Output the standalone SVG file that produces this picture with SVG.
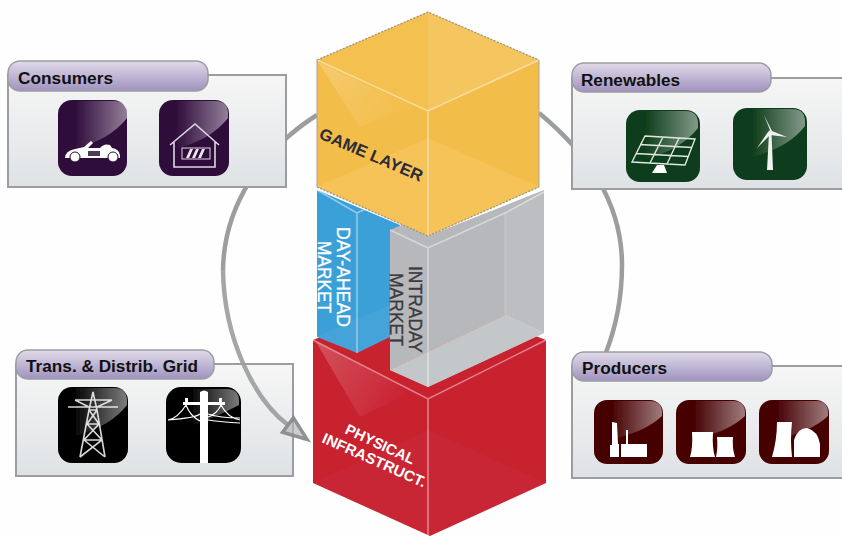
<svg xmlns="http://www.w3.org/2000/svg" width="842" height="536" viewBox="0 0 842 536">
<style>
text{font-family:"Liberation Sans",Arial,sans-serif}
.box{fill:url(#boxG);stroke:#9b9da0;stroke-width:2}
.tab{fill:url(#tabG);stroke:#9b9da0;stroke-width:1.5}
.lbl{font-size:17.4px;font-weight:700;fill:#111}
.ring{fill:none;stroke:#9c9d9f;stroke-width:4.5}
.soft{filter:url(#soft)}
.gloss{fill:url(#glossG)}
.w{fill:#fff}
.wl{fill:none;stroke:#fff}
.edge{fill:none;stroke-width:1.5;stroke-opacity:.45;stroke:#fff}
.out{fill:none;stroke:#85878a;stroke-width:1.3;stroke-dasharray:2 1.5;stroke-opacity:.8}
.cube{font-size:18px;stroke-width:.35}
</style>
<defs>
<filter id="soft" x="-5%" y="-5%" width="110%" height="110%"><feGaussianBlur stdDeviation="0.6"/></filter>
<linearGradient id="boxG" x1="0" y1="0" x2="0" y2="1"><stop offset="0" stop-color="#f6f6f6"/><stop offset="1" stop-color="#dfe2e5"/></linearGradient>
<linearGradient id="tabG" x1="0" y1="0" x2="0" y2="1"><stop offset="0" stop-color="#e0dbe9"/><stop offset="1" stop-color="#a092bf"/></linearGradient>
<linearGradient id="glossG" x1="0" y1="0" x2="1" y2="0"><stop offset="0" stop-color="#fff" stop-opacity="0"/><stop offset="1" stop-color="#fff" stop-opacity=".48"/></linearGradient>
<linearGradient id="shine" x1="0" y1="0" x2="1" y2="0.5"><stop offset="0" stop-color="#fff" stop-opacity=".22"/><stop offset="1" stop-color="#fff" stop-opacity=".02"/></linearGradient>
<marker id="arrow" markerUnits="userSpaceOnUse" markerWidth="34" markerHeight="30" refX="3" refY="15" orient="auto"><path d="M3 6 L27 15 L3 24 Z" fill="#b4b6b9" fill-opacity=".75" stroke="#85878a" stroke-width="3.500"/></marker>
<path id="g" d="M16 1 H56 Q69 1 69 14 V18 Q52 40 16 49 Z"/>
</defs>
<rect width="842" height="536" fill="#fefefe"/>

<g id="grid">
<rect class="box" x="16" y="364" width="277" height="112"/>
<rect class="tab" x="16" y="350" width="198" height="29" rx="12"/>
<text class="lbl" x="26" y="372" textLength="172" lengthAdjust="spacingAndGlyphs">Trans. &amp; Distrib. Grid</text>
<g class="soft">
<rect x="58" y="387" width="70" height="76" rx="14" fill="#030303"/>
<g fill="none" stroke="#d6d6d6" stroke-width="1.6"><path d="M80 457 L89 410 L93 392 L97 410 L105 457 M75 400 H112 M68 407 H118 M75 400 L89 407 M112 400 L97 407 M89 410 H97 M87 424 H99 M84 440 H102 M89 410 L99 424 L84 440 L105 457 M97 410 L87 424 L102 440 L80 457"/></g>
<use href="#g" class="gloss" transform="translate(58,387)"/>
<rect x="166" y="387" width="75" height="76" rx="15" fill="#000"/>
<path class="gloss" d="M190 389 H227 Q239 389 239 401 V405 Q215 418 190 426 Z"/>
<path class="w" d="M200 392 Q204 389 208 392 V463 H200 Z M183 402 H225 V405 H183 Z"/>
<rect class="w" x="185" y="398" width="3" height="7"/><rect class="w" x="219" y="398" width="3" height="7"/>
<path class="wl" stroke-width="1.2" d="M168 420 Q178 418 186 405 M168 420 Q195 418 200 414 M186 405 Q190 416 200 421 M240 420 Q228 418 221 405 M240 418 Q220 418 208 414 M240 423 Q222 422 208 420 M221 405 Q217 414 208 417"/>
</g>
</g>

<g id="connectors">
<path class="ring" d="M317 115 C262 150 224 205 223 270"/>
<path class="ring" opacity=".9" d="M223 270 C224 340 255 400 288 425" marker-end="url(#arrow)"/>
<path class="ring" d="M539 113 C590 155 622 205 622 265 C622 300 615 330 605 355"/>
</g>

<g id="consumers">
<rect class="box" x="8" y="75" width="278" height="112"/>
<rect class="tab" x="8" y="61" width="200" height="30" rx="12"/>
<text class="lbl" x="18" y="84" textLength="95" lengthAdjust="spacingAndGlyphs">Consumers</text>
<g class="soft">
<rect x="58" y="100" width="69" height="76" rx="14" fill="#2e0a3a"/>
<use href="#g" class="gloss" transform="translate(58,100)"/>
<path class="w" d="M65 158 Q65 151 75 149 L84 147 L91 141 L93 143 L88 148 L100 148 Q104 143 110 145 L112 148 Q119 149 120 155 L120 158 Z"/>
<circle cx="75" cy="157" r="5" class="w" stroke="#2e0a3a"/><circle cx="113" cy="157" r="5" class="w" stroke="#2e0a3a"/>
<rect x="88" y="151" width="12" height="5" fill="#4d3a58"/>
<rect x="159" y="100" width="70" height="76" rx="14" fill="#2e0a3a"/>
<use href="#g" class="gloss" transform="translate(159,100)"/>
<path fill="none" stroke="#ddd7e2" stroke-width="1.6" d="M170 145 L195 124 L219 145 M174 142 V167 H215 V142"/>
<rect x="182" y="148" width="28" height="11" fill="none" stroke="#ddd7e2" stroke-width="1"/>
<path fill="#e9e5ec" d="M186 158 L190 149 H193 L189 158 Z M192 158 L196 149 H199 L195 158 Z M198 158 L202 149 H205 L201 158 Z"/>
</g>
</g>

<g id="renewables">
<rect class="box" x="572" y="78" width="272" height="111"/>
<rect class="tab" x="572" y="63" width="199" height="29" rx="12"/>
<text class="lbl" x="581" y="86" textLength="99" lengthAdjust="spacingAndGlyphs">Renewables</text>
<g class="soft">
<rect x="626" y="110" width="74" height="72" rx="14" fill="#0f3d1b"/>
<use href="#g" class="gloss" transform="translate(629,110)"/>
<path fill="none" stroke="#dfe8e0" stroke-width="1.4" d="M645 136 L695 139 L685 165 L632 162 Z M640 144.500 L692 147.500 M636 153.500 L688 156.500 M663 137 L650 163 M679 138 L667 164"/>
<path class="w" d="M657 165 H664 L667 173 H652 Z"/>
<rect x="733" y="108" width="74" height="72" rx="14" fill="#0f3d1b"/>
<use href="#g" class="gloss" transform="translate(736,108)"/>
<path fill="#eef2ee" d="M769 133 H771.500 L773 170 H767 Z M770 130 L764 115 L772 131 L787 137 L770 135 L757 148 L768 132 Z"/>
</g>
</g>

<g id="producers">
<rect class="box" x="572" y="366" width="272" height="112"/>
<rect class="tab" x="572" y="352" width="200" height="29" rx="12"/>
<text class="lbl" x="582" y="374" textLength="85" lengthAdjust="spacingAndGlyphs">Producers</text>
<g class="soft">
<rect x="594" y="400" width="69" height="64" rx="13" fill="#470205"/>
<path class="gloss" d="M612 401 H650 Q662 401 662 413 V416 Q645 432 612 439 Z"/>
<path class="w" d="M612 422 L617 423 L618 444 H619 V457 H610 V445 H612 Z M621 457 V444 H626 V430 H628 V444 H647 V457 Z"/>
<rect x="676" y="400" width="70" height="64" rx="13" fill="#470205"/>
<path class="gloss" d="M694 401 H733 Q745 401 745 413 V416 Q728 432 694 439 Z"/>
<path class="w" d="M692 432 H713 Q712 448 715 457 H690 Q693 448 692 432 Z M717 437 H733 Q732 448 735 457 H716 Q718 448 717 437 Z"/>
<rect x="759" y="400" width="70" height="64" rx="13" fill="#470205"/>
<path class="gloss" d="M777 401 H816 Q828 401 828 413 V416 Q811 432 777 439 Z"/>
<path class="w" d="M777 422 H792 Q790 440 792 457 H772 Q777 440 777 422 Z M794 457 V440 Q798 428 807 428 Q818 431 820 444 V457 Z"/>
</g>
</g>

<g id="physical">
<g class="soft">
<path fill="#c8202f" d="M313 340 L428 294 L546 340 V483 L430 536 L313 483 Z"/>
<path fill="#fff" fill-opacity=".03" d="M313 483 L428 430 L546 483 L430 536 Z"/>
<path fill="url(#shine)" d="M316 342 L360 417 L412 392 Z"/>
<path class="edge" d="M313 340 L428 399 L546 340 M428 399 V536"/>
</g>
<text x="344" y="433" transform="rotate(25 344 433)" font-size="15" font-weight="700" fill="#fff" textLength="75" lengthAdjust="spacingAndGlyphs">PHYSICAL</text>
<text x="321" y="442" transform="rotate(24 321 442)" font-size="15" font-weight="700" fill="#fff" textLength="112" lengthAdjust="spacingAndGlyphs">INFRASTRUCT.</text>
</g>

<g id="day-ahead">
<g class="soft">
<path fill="#3b9fd8" d="M317 190 L400 225 L390 337 L357 353 L317 337 Z"/>
<path fill="#fff" fill-opacity=".05" d="M317 337 L357 318 L392 305 V336 L357 353 Z"/>
<path class="edge" d="M317 190 L357 213 V353 M357 213 L372 206"/>
</g>
<text class="cube" x="337" y="227" transform="rotate(90 337 227)" fill="#fff" stroke="#fff" textLength="100" lengthAdjust="spacingAndGlyphs">DAY-AHEAD</text>
<text class="cube" x="318" y="241" transform="rotate(90 318 241)" fill="#fff" stroke="#fff" textLength="72" lengthAdjust="spacingAndGlyphs">MARKET</text>
</g>

<g id="intraday">
<g class="soft">
<path fill="#b6b8bb" d="M390 230 L404 224 L428 236 L544 190 V333 L428 387 L390 370 Z"/>
<path fill="#c4c7ca" d="M390 370 L505 315 L544 333 L428 387 Z"/>
<path fill="#bcbec1" d="M505 213 L544 190 V333 L505 315 Z"/>
<path class="edge" d="M390 230 L428 248 L505 213 L544 192 M428 248 V387"/>
<path fill="none" stroke="#fff" stroke-opacity=".2" d="M505 213 V315 L544 333"/>
<path fill="none" stroke="#e0a08a" stroke-opacity=".6" stroke-dasharray="3 2" d="M390 370 L505 315"/>
</g>
<text class="cube" x="409" y="266" transform="rotate(90 409 266)" fill="#3a3a40" stroke="#3a3a40" textLength="87" lengthAdjust="spacingAndGlyphs">INTRADAY</text>
<text class="cube" x="390" y="273" transform="rotate(90 390 273)" fill="#3a3a40" stroke="#3a3a40" textLength="73" lengthAdjust="spacingAndGlyphs">MARKET</text>
</g>

<g id="game-layer">
<g class="soft">
<path fill="#f3bd48" d="M317 60 L428 12 L539 60 V187 L428 236 L317 187 Z"/>
<path fill="#f5c561" d="M428 12 L539 60 L428 111 Z"/>
<path fill="#f4c050" d="M428 12 L317 60 L428 111 Z"/>
<path fill="#f5c358" d="M317 187 L428 138 L539 187 L428 236 Z"/>
<path fill="url(#shine)" d="M318 62 L360 127 L412 106 Z"/>
<path class="edge" d="M317 60 L428 111 L539 60 M428 111 V236"/>
<path class="out" d="M317 60 L428 12 L539 60 M317 187 L428 236 L539 187"/>
<path fill="none" stroke="#a9a39a" d="M317 60 V187 M539 60 V187"/>
</g>
<text x="318" y="138" transform="rotate(23.200 318 138)" font-size="16.500" font-weight="700" fill="#2a2a38" textLength="111" lengthAdjust="spacingAndGlyphs">GAME LAYER</text>
</g>
</svg>
